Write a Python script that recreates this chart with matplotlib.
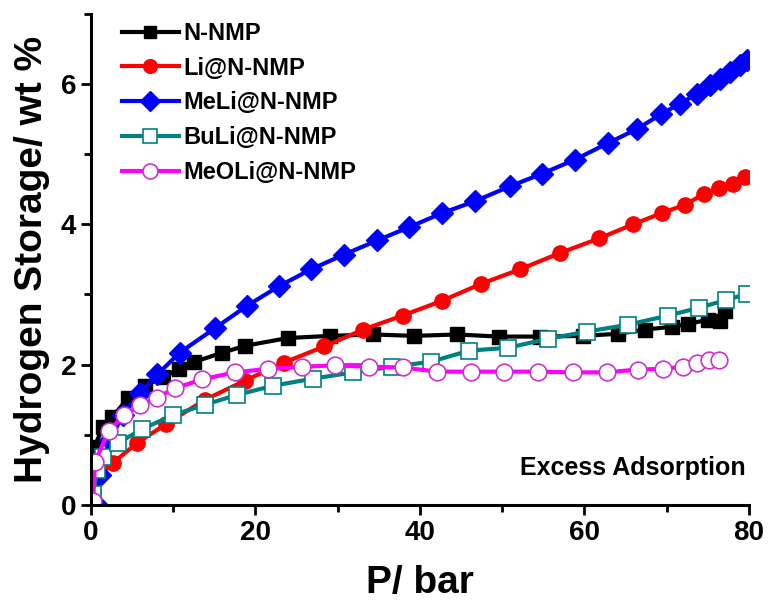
import matplotlib
matplotlib.use("Agg")
import matplotlib.pyplot as plt
from matplotlib.ticker import MultipleLocator

# ---- data ----
nnmp_p = [0.4, 1.5, 2.6, 4.5, 6.6, 8.8, 10.7, 12.6, 16.0, 18.8, 24.0, 29.1, 34.3, 39.3,
          44.5, 49.6, 54.6, 59.8, 64.1, 67.4, 70.6, 72.6, 75.0, 76.5, 77.1]
nnmp_w = [0.82, 1.11, 1.25, 1.52, 1.70, 1.82, 1.94, 2.04, 2.17, 2.27, 2.38, 2.41, 2.43, 2.41,
          2.43, 2.40, 2.40, 2.41, 2.44, 2.50, 2.54, 2.58, 2.64, 2.62, 2.76]

li_p = [0.3, 0.9, 2.7, 5.6, 9.1, 13.9, 18.7, 23.5, 28.4, 33.1, 37.9, 42.7, 47.4, 52.2,
        57.0, 61.8, 65.9, 69.4, 72.2, 74.5, 76.4, 78.1, 79.5]
li_w = [0.18, 0.40, 0.60, 0.88, 1.15, 1.50, 1.77, 2.03, 2.26, 2.50, 2.70, 2.91, 3.15, 3.36,
        3.59, 3.80, 4.00, 4.16, 4.28, 4.43, 4.52, 4.58, 4.67]

meli_p = [0.8, 1.1, 2.3, 3.9, 6.0, 8.1, 10.8, 15.1, 19.0, 22.9, 26.8, 30.8, 34.8, 38.7,
          42.7, 46.7, 50.9, 54.8, 58.8, 62.9, 66.4, 69.3, 71.6, 73.7, 75.3, 76.5, 77.7, 78.9, 79.8]
meli_w = [0.0, 0.43, 0.92, 1.28, 1.60, 1.86, 2.17, 2.52, 2.84, 3.12, 3.36, 3.57, 3.77, 3.96,
          4.16, 4.33, 4.54, 4.72, 4.92, 5.16, 5.36, 5.57, 5.72, 5.86, 5.99, 6.07, 6.17, 6.27, 6.34]

buli_p = [0.3, 0.8, 1.5, 3.3, 6.2, 10.0, 13.9, 17.8, 22.2, 27.0, 31.9, 36.6, 41.3, 46.0,
          50.7, 55.6, 60.3, 65.3, 70.2, 73.9, 77.2, 79.8]
buli_w = [0.15, 0.50, 0.68, 0.88, 1.08, 1.28, 1.43, 1.57, 1.70, 1.80, 1.89, 1.97, 2.04, 2.20,
          2.24, 2.37, 2.47, 2.57, 2.70, 2.81, 2.92, 3.01]

meoli_p = [0.3, 0.5, 2.2, 4.1, 6.0, 8.0, 10.2, 13.5, 17.5, 21.6, 25.7, 29.7, 33.8, 37.9,
           42.1, 46.2, 50.2, 54.3, 58.6, 62.7, 66.5, 69.5, 72.0, 73.7, 75.1, 76.4]
meoli_w = [0.05, 0.61, 1.06, 1.28, 1.42, 1.53, 1.66, 1.79, 1.89, 1.94, 1.97, 1.99, 1.97, 1.96,
           1.90, 1.90, 1.90, 1.90, 1.89, 1.89, 1.93, 1.94, 1.97, 2.03, 2.06, 2.07]

labels = ["N-NMP", "Li@N-NMP", "MeLi@N-NMP", "BuLi@N-NMP", "MeOLi@N-NMP"]
xticks = [0, 20, 40, 60, 80]
yticks = [0, 2, 4, 6]

narrow = ["Liberation Sans Narrow", "Liberation Sans", "DejaVu Sans"]
plt.rcParams["font.family"] = ["Liberation Sans", "DejaVu Sans"]
plt.rcParams["font.weight"] = "bold"

fig = plt.figure(figsize=(7.69, 6.04), dpi=100)
ax = fig.add_axes([0.118, 0.164, 0.856, 0.813])

lw = 3.0
ax.plot(nnmp_p, nnmp_w, color="black", lw=lw, marker="s", ms=10, label=labels[0])
ax.plot(li_p, li_w, color="#ff0000", lw=lw, marker="o", ms=11, label=labels[1])
ax.plot(meli_p, meli_w, color="#0000ff", lw=lw, marker="D", ms=11, label=labels[2])
ax.plot(buli_p, buli_w, color="#008080", lw=lw, marker="s", ms=11, mfc="white",
        mec="#008080", mew=1.2, label=labels[3])
ax.plot(meoli_p, meoli_w, color="#ff00ff", lw=lw, marker="o", ms=12, mfc="white",
        mec="#cc33cc", mew=1.2, label=labels[4])

ax.set_xlim(0, 80)
ax.set_ylim(0, 7)
ax.set_xticks(xticks)
ax.set_yticks(yticks)
ax.xaxis.set_minor_locator(MultipleLocator(10))
ax.yaxis.set_minor_locator(MultipleLocator(1))
for s in ["top", "right"]:
    ax.spines[s].set_visible(False)
for s in ["left", "bottom"]:
    ax.spines[s].set_linewidth(2.2)
ax.tick_params(which="major", direction="out", length=7, width=2)
ax.tick_params(which="minor", direction="out", length=5, width=2)
for lab in ax.get_xticklabels() + ax.get_yticklabels():
    lab.set_fontfamily(narrow)
    lab.set_fontsize(20)
    lab.set_fontweight("bold")

ax.set_xlabel("P/ bar", fontsize=28, fontweight="bold", family=narrow, labelpad=14)
ax.set_ylabel("Hydrogen Storage/ wt %", fontsize=28, fontweight="bold", family=narrow,
              labelpad=8)

ax.text(0.995, 0.075, "Excess Adsorption", transform=ax.transAxes, ha="right",
        va="center", fontsize=18, fontweight="bold", family=narrow)

leg = ax.legend(loc="upper left", bbox_to_anchor=(0.015, 1.027), frameon=False,
                prop={"size": 17, "weight": "bold", "family": ["Liberation Sans"]},
                handlelength=2.4, handletextpad=0.2, labelspacing=0.5,
                markerscale=0.9, numpoints=1)

fig.savefig("out.png", dpi=100)
